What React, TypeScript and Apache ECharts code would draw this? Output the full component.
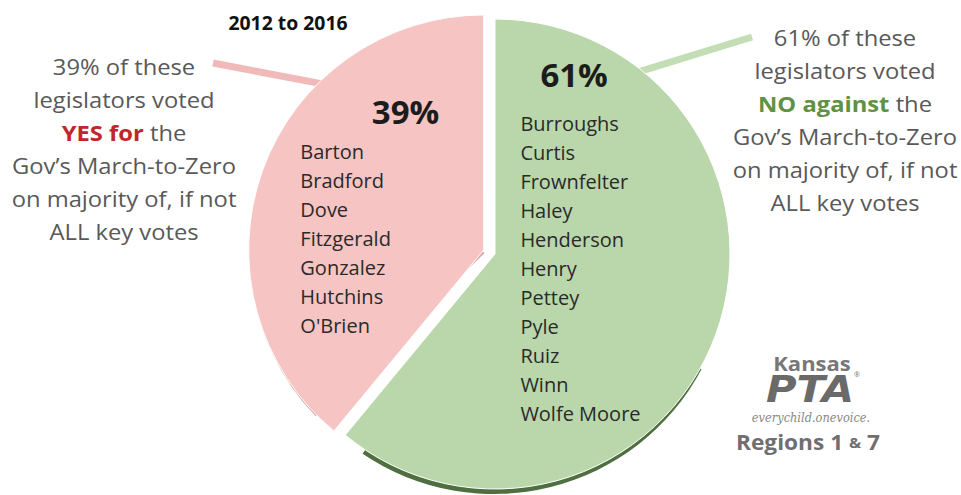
import React, { useEffect, useRef } from "react";
import * as echarts from "echarts";

// ---- data ----
const voteLabels = ["NO against", "YES for"];
const votePercents = [61, 39];
const noLegislators = [
  "Burroughs", "Curtis", "Frownfelter", "Haley", "Henderson", "Henry",
  "Pettey", "Pyle", "Ruiz", "Winn", "Wolfe Moore",
];
const yesLegislators = [
  "Barton", "Bradford", "Dove", "Fitzgerald", "Gonzalez", "Hutchins", "O'Brien",
];
const titleText = "2012 to 2016";
const yesNote = ["39% of these", "legislators voted", "{r|YES for} the", "Gov’s March-to-Zero", "on majority of, if not", "ALL key votes"];
const noNote = ["61% of these", "legislators voted", "{g|NO against} the", "Gov’s March-to-Zero", "on majority of, if not", "ALL key votes"];

const FONT = "'Open Sans', 'Noto Sans', sans-serif";
const GREEN = "#b9d7aa";
const PINK = "#f5c4c3";

export default function App() {
  const ref = useRef<HTMLDivElement>(null);

  useEffect(() => {
    if (!ref.current) return;
    const chart = echarts.init(ref.current, null, { renderer: "svg" });
    const cx = 495, cy = 254, R = 235, OFF = 12;
    const split = (360 * votePercents[0]) / 100; // deg clockwise from top
    const pinkMid = (split + 360) / 2;
    const ang = (d: number) => (d * Math.PI) / 180;
    const zr = (d: number) => ang(d - 90); // clockwise-from-top -> zrender angle
    const pcx = cx + OFF * Math.sin(ang(pinkMid));
    const pcy = cy - OFF * Math.cos(ang(pinkMid));
    const pinkStart = [pcx + (R - 10) * Math.sin(ang(317)), pcy - (R - 10) * Math.cos(ang(317))];
    const greenStart = [cx + (R - 10) * Math.sin(ang(37)), cy - (R - 10) * Math.cos(ang(37))];

    const lists = [noLegislators, yesLegislators];
    const data = voteLabels.map((name, i) => ({
      name,
      value: votePercents[i],
      selected: i === 1,
      itemStyle: { color: i === 0 ? GREEN : PINK },
      label: {
        width: i === 0 ? 128 : 140,
        formatter: () =>
          `{p|${votePercents[i]}%}\n` + lists[i].map((n) => `{n|${n}}`).join("\n"),
        rich: {
          p: {
            fontSize: 33, fontWeight: "bold", color: "#1c1c1c", fontFamily: FONT,
            lineHeight: i === 0 ? 70 : 51, align: i === 0 ? "left" : "right",
            padding: i === 0 ? [0, 0, 0, 20] : [0, 1, 0, 0],
          },
          n: { fontSize: 20, color: "#2a2a2a", fontFamily: FONT, lineHeight: 29, align: "left" },
        },
      },
    }));

    const noteStyle = (lines: string[], x: number, y: number) => ({
      type: "text",
      x, y, z: 10, scaleX: 1.08,
      style: {
        text: lines.join("\n"),
        fill: "#595959",
        fontSize: 22,
        fontFamily: FONT,
        lineHeight: 33,
        align: "center",
        verticalAlign: "top",
        rich: {
          r: { fill: "#c0262c", fontWeight: "bold", fontSize: 22, fontFamily: FONT, lineHeight: 33 },
          g: { fill: "#5f9241", fontWeight: "bold", fontSize: 22, fontFamily: FONT, lineHeight: 33 },
        },
      },
    });

    chart.setOption({
      animation: false,
      textStyle: { fontFamily: FONT },
      series: [
        {
          type: "pie",
          center: [cx, cy],
          radius: [0, R],
          startAngle: 90,
          clockwise: true,
          selectedMode: "single",
          selectedOffset: OFF,
          emphasis: { disabled: true },
          itemStyle: { borderColor: "#ffffff", borderWidth: 1 },
          label: { show: true, position: "inside" },
          labelLine: { show: false },
          labelLayout: (p: any) => (p.dataIndex === 0 ? { dx: -24, dy: -61 } : { dx: 0, dy: 4 }),
          data,
          z: 3,
        },
      ],
      graphic: [
        // 3D-like rims under the slices
        { type: "sector", z: 1, shape: { cx: cx - 1, cy: cy + 5, r: R, r0: 0, startAngle: zr(118), endAngle: zr(214), clockwise: true }, style: { fill: "#4f6f40" } },
        { type: "sector", z: 1, shape: { cx: pcx + 1, cy: pcy + 3, r: R, r0: 0, startAngle: zr(226), endAngle: zr(300), clockwise: true }, style: { fill: "#dda4a4" } },
        { type: "line", z: 1, shape: { x1: pinkStart[0], y1: pinkStart[1], x2: 213, y2: 63 }, style: { stroke: "#f1b9b9", lineWidth: 7 } },
        { type: "line", z: 1, shape: { x1: greenStart[0], y1: greenStart[1], x2: 752, y2: 37 }, style: { stroke: "#c3ddb5", lineWidth: 7 } },
        { type: "text", x: 288, y: 23, z: 10, scaleX: 1.02, style: { text: titleText, fill: "#111", fontSize: 19, fontWeight: "bold", fontFamily: FONT, align: "center", verticalAlign: "middle" } },
        noteStyle(yesNote, 124, 50),
        noteStyle(noNote, 845, 21),
        { type: "text", x: 812, y: 363, z: 10, scaleX: 1.1, style: { text: "Kansas", fill: "#777", fontSize: 20, fontWeight: "bold", fontFamily: FONT, align: "center", verticalAlign: "middle" } },
        { type: "text", x: 810, y: 389, z: 10, scaleX: 1.1, style: { text: "PTA", fill: "#6a6a6a", fontSize: 38, fontWeight: 900, fontStyle: "italic", fontFamily: "'DejaVu Sans', sans-serif", align: "center", verticalAlign: "middle" } },
        { type: "text", x: 857, y: 374, z: 10, style: { text: "®", fill: "#777", fontSize: 7, fontFamily: FONT, align: "center", verticalAlign: "middle" } },
        { type: "text", x: 811, y: 418, z: 10, scaleX: 0.95, style: { text: "everychild.onevoice.", fill: "#888", fontSize: 12, fontStyle: "italic", fontFamily: "'DejaVu Serif', serif", align: "center", verticalAlign: "middle" } },
        { type: "text", x: 808, y: 442, z: 10, scaleX: 1.08, style: { text: "Regions 1 {s|&} 7", fill: "#6f6f6f", fontSize: 21, fontWeight: "bold", fontFamily: FONT, align: "center", verticalAlign: "middle", rich: { s: { fill: "#6f6f6f", fontSize: 15, fontWeight: "bold", fontFamily: FONT } } } },
      ],
    });
    return () => chart.dispose();
  }, []);

  return (
    <div
      ref={ref}
      style={{ position: "absolute", left: 0, top: 0, width: 961, height: 495, background: "#ffffff" }}
    />
  );
}
